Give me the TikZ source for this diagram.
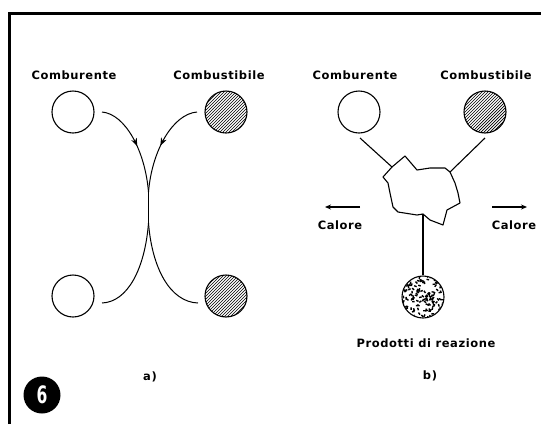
\documentclass[tikz,border=0pt]{standalone}
\usepackage{fontspec}
\newfontfamily\labfont[LetterSpace=5]{DejaVu Sans}
\newfontfamily\sixfont{DejaVu Sans Condensed}
\usetikzlibrary{patterns,arrows.meta,decorations.markings,calc}
\pgfdeclarepatternformonly{densehatch}{\pgfqpoint{-1pt}{-1pt}}{\pgfqpoint{4pt}{4pt}}{\pgfqpoint{3pt}{3pt}}{%
  \pgfsetlinewidth{0.7pt}
  \pgfpathmoveto{\pgfqpoint{0pt}{0pt}}
  \pgfpathlineto{\pgfqpoint{3.1pt}{3.1pt}}
  \pgfusepath{stroke}}
\begin{document}
\begin{tikzpicture}[x=1pt,y=-1pt,
  lab/.style={font=\labfont\bfseries\fontsize{11.5}{13}\selectfont, inner sep=0pt},
  ball/.style={circle, draw, line width=1.1pt, minimum size=42pt, inner sep=0pt},
  hball/.style={ball, pattern=densehatch},
  flow/.style={line width=1pt},
  conn/.style={line width=1.1pt},
  midarrow/.style={postaction={decorate},decoration={markings,mark=at position 0.52 with {\arrow{Stealth[length=8pt,width=6pt]}}}},
  heat/.style={line width=1.1pt,-{Stealth[length=6pt,width=5pt]}}
]
\useasboundingbox (0,0) rectangle (541,424);
% frame
\draw[line width=3pt] (9,424) -- (9,13) -- (541,13);

% ---- panel a ----
\node[lab] (la1) at (74,75) {Comburente};
\node[lab] (la2) at (219,75) {Combustibile};
\node[ball] (ca1) at (73,112) {};
\node[hball] (ca2) at (226,112) {};
\node[ball] (ca3) at (73,296) {};
\node[hball] (ca4) at (226,296) {};
\coordinate (s1) at (102,112);
\coordinate (s2) at (197,112);
\coordinate (m1) at (148.5,192);
\coordinate (m2) at (148.5,223);
\coordinate (e1) at (102,303);
\coordinate (e2) at (198,303);
\draw[flow,midarrow] (s1) .. controls (125,114) and (145,150) .. (m1);
\draw[flow,midarrow] (s2) .. controls (173,114) and (152,150) .. (m1);
\draw[flow] (m1) -- (m2);
\draw[flow] (m2) .. controls (145,268) and (128,302) .. (e1);
\draw[flow] (m2) .. controls (152,268) and (170,302) .. (e2);
\node[lab] (pa) at (150,377) {a)};
\node[circle, fill=black, minimum size=37pt, inner sep=0pt, text=white,
      font=\sixfont\bfseries\fontsize{24}{24}\selectfont] (six) at (42,395) {\scalebox{0.72}[1]{6}};

% ---- panel b ----
\node[lab] (lb1) at (355,75) {Comburente};
\node[lab] (lb2) at (486,75) {Combustibile};
\node[ball] (cb1) at (359,112) {};
\node[hball] (cb2) at (485,112) {};
\node[ball] (cb3) at (423,297) {};
\begin{scope}
  \clip (423,297) circle (20.5);
  \pgfmathsetseed{7}
  \foreach \i in {1,...,150} {
    \pgfmathsetmacro{\px}{423+rand*21}
    \pgfmathsetmacro{\py}{297+rand*21}
    \pgfmathsetmacro{\an}{rand*180}
    \fill[rotate around={\an:(\px,\py)}] (\px-1.3,\py-0.7) rectangle (\px+1.3,\py+0.7);
  }
\end{scope}
% reaction blob
\coordinate (bA) at (392,167);
\coordinate (bB) at (450,172);
\coordinate (bC) at (423,214);
\draw[line width=1.1pt, line join=round]
  (383,177) -- (bA) -- (405,156) -- (417,170) -- (430,168) -- (445,168) -- (bB)
  -- (455,183) -- (458,193) -- (460,203) -- (447,210) -- (443,225) -- (430,220)
  -- (bC) -- (417,215) -- (398,212) -- (393,207) -- (390,193) -- (388,183) -- cycle;
\draw[conn] ($(cb1)+(1,26)$) -- (bA);
\draw[conn] ($(cb2)+(0,26)$) -- (bB);
\draw[conn] (bC) -- (cb3.north);
% heat arrows
\coordinate (hl1) at (360,207);
\coordinate (hl2) at (325,207);
\coordinate (hr1) at (492,207);
\coordinate (hr2) at (527,207);
\draw[heat] (hl1) -- (hl2);
\draw[heat] (hr1) -- (hr2);
\node[lab] (cl1) at (340,225) {Calore};
\node[lab] (cl2) at (514,225) {Calore};
\node[lab] (pr) at (426,343) {Prodotti di reazione};
\node[lab] (pb) at (430,376) {b)};
\end{tikzpicture}
\end{document}
